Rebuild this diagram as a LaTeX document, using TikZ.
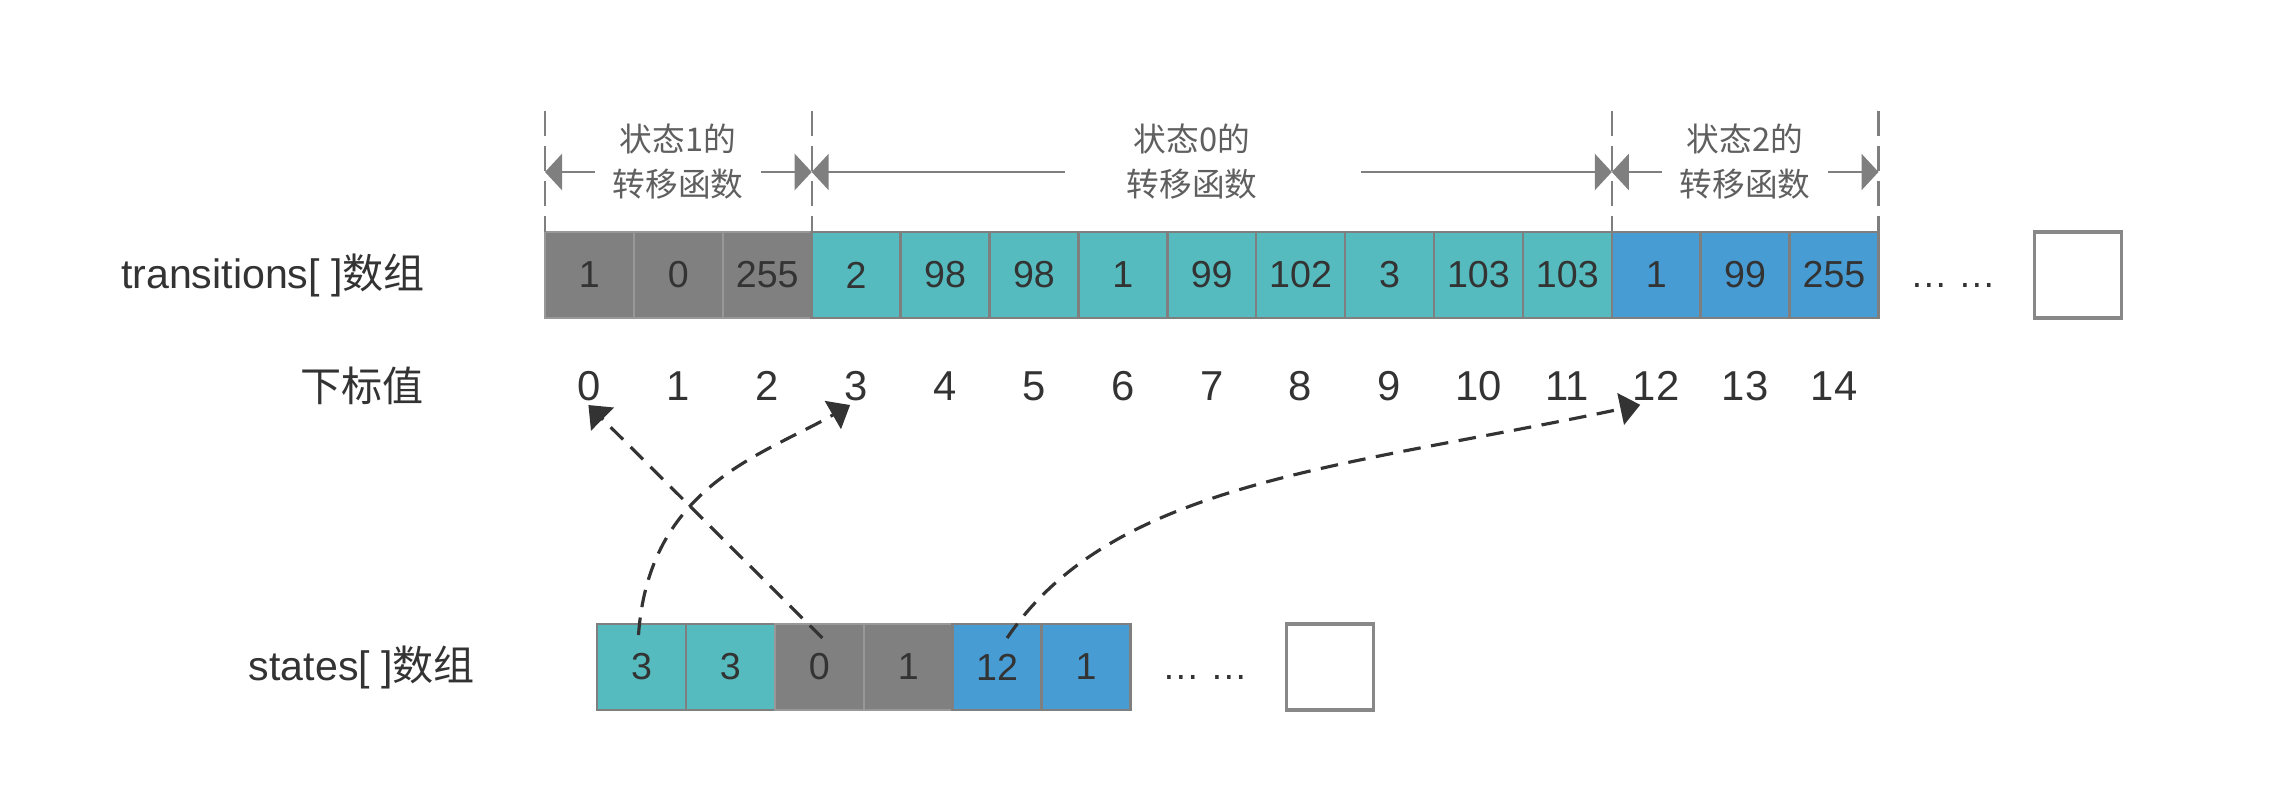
\documentclass[tikz,border=0pt]{standalone}
\usepackage{fontspec}
\setmainfont{Liberation Sans}
\newfontfamily\cjk{Noto Sans CJK SC}
\usepackage{tikz}
\usetikzlibrary{arrows.meta}

\definecolor{grayc}{HTML}{808080}
\definecolor{grayline}{HTML}{989898}
\definecolor{tealc}{HTML}{55BBBE}
\definecolor{bluec}{HTML}{489CD4}
\definecolor{cellline}{HTML}{7F7F7F}
\definecolor{boxline}{HTML}{888888}
\definecolor{ink}{HTML}{333333}
\definecolor{dimgray}{HTML}{7F7F7F}
\definecolor{labelgray}{HTML}{5F5F5F}

\begin{document}
\begin{tikzpicture}[
    cell/.style={draw=cellline, line width=0.7pt, minimum width=0.889cm,
      minimum height=0.86cm, inner sep=0pt, outer sep=0pt, text=ink,
      font=\fontsize{10.7}{12}\selectfont},
    graycell/.style={cell, fill=grayc, draw=grayline},
    blank/.style={draw=boxline, line width=0.9pt, fill=white,
      minimum width=0.87cm, minimum height=0.86cm, inner sep=0pt},
    idx/.style={text=ink, inner sep=1pt, font=\fontsize{11.9}{13}\selectfont},
    rowname/.style={text=ink, font=\fontsize{11.7}{13}\selectfont},
    spanname/.style={text=labelgray, align=center, inner xsep=0.17cm,
      inner ysep=0pt, font=\cjk\fontsize{9.3}{12.8}\selectfont},
    guide/.style={draw=dimgray, line width=0.6pt, dash pattern=on 7pt off 3pt},
    span/.style={draw=dimgray, line width=0.8pt,
      -{Triangle[length=1.7mm,width=3.6mm]}},
    link/.style={draw=ink, line width=0.9pt, dash pattern=on 5pt off 3pt,
      -{Triangle[length=2mm,width=3.2mm]}}
  ]
  \useasboundingbox (0,0) rectangle (22.9,8.02);

  % row names
  \node[rowname] (tname) at (2.73,5.27) {transitions[ ]{\cjk 数组}};
  \node[rowname] (iname) at (3.62,4.16) {\cjk 下标值};
  \node[rowname] (sname) at (3.62,1.35) {states[ ]{\cjk 数组}};

  % transitions[] cells
  \node[graycell] (t0) at (5.894,5.27) {1};
  \node[graycell] (t1) at (6.783,5.27) {0};
  \node[graycell] (t2) at (7.672,5.27) {255};
  \node[cell, fill=tealc] (t3) at (8.561,5.27) {2};
  \node[cell, fill=tealc] (t4) at (9.450,5.27) {98};
  \node[cell, fill=tealc] (t5) at (10.339,5.27) {98};
  \node[cell, fill=tealc] (t6) at (11.228,5.27) {1};
  \node[cell, fill=tealc] (t7) at (12.117,5.27) {99};
  \node[cell, fill=tealc] (t8) at (13.006,5.27) {102};
  \node[cell, fill=tealc] (t9) at (13.895,5.27) {3};
  \node[cell, fill=tealc] (t10) at (14.784,5.27) {103};
  \node[cell, fill=tealc] (t11) at (15.673,5.27) {103};
  \node[cell, fill=bluec] (t12) at (16.562,5.27) {1};
  \node[cell, fill=bluec] (t13) at (17.451,5.27) {99};
  \node[cell, fill=bluec] (t14) at (18.340,5.27) {255};
  \node[text=ink, anchor=base, font=\fontsize{10.7}{12}\selectfont]
    (tdots) at (19.53,5.15) {… …};
  \node[blank] (tblank) at (20.78,5.27) {};

  % index values
  \node[idx] (i0) at (5.894,4.16) {0};
  \node[idx] (i1) at (6.783,4.16) {1};
  \node[idx] (i2) at (7.672,4.16) {2};
  \node[idx] (i3) at (8.561,4.16) {3};
  \node[idx] (i4) at (9.450,4.16) {4};
  \node[idx] (i5) at (10.339,4.16) {5};
  \node[idx] (i6) at (11.228,4.16) {6};
  \node[idx] (i7) at (12.117,4.16) {7};
  \node[idx] (i8) at (13.006,4.16) {8};
  \node[idx] (i9) at (13.895,4.16) {9};
  \node[idx] (i10) at (14.784,4.16) {10};
  \node[idx] (i11) at (15.673,4.16) {11};
  \node[idx] (i12) at (16.562,4.16) {12};
  \node[idx] (i13) at (17.451,4.16) {13};
  \node[idx] (i14) at (18.340,4.16) {14};

  % states[] cells
  \node[cell, fill=tealc] (s0) at (6.415,1.35) {3};
  \node[cell, fill=tealc] (s1) at (7.304,1.35) {3};
  \node[graycell] (s2) at (8.193,1.35) {0};
  \node[graycell] (s3) at (9.082,1.35) {1};
  \node[cell, fill=bluec] (s4) at (9.971,1.35) {12};
  \node[cell, fill=bluec] (s5) at (10.860,1.35) {1};
  \node[text=ink, anchor=base, font=\fontsize{10.7}{12}\selectfont]
    (sdots) at (12.05,1.23) {… …};
  \node[blank] (sblank) at (13.30,1.35) {};

  % spans of the transition functions
  \coordinate (u0) at (5.450,6.91);
  \coordinate (u1) at (8.117,6.91);
  \coordinate (u2) at (16.118,6.91);
  \coordinate (u3) at (18.785,6.91);
  \draw[guide] (u0) -- (u0 |- t0.north);
  \draw[guide] (u1) -- (u1 |- t3.north);
  \draw[guide] (u2) -- (u2 |- t12.north);
  \draw[guide] (u3) -- (u3 |- t14.north);

  \coordinate (a0) at (5.450,6.30);
  \coordinate (a1) at (8.117,6.30);
  \coordinate (a2) at (16.118,6.30);
  \coordinate (a3) at (18.785,6.30);
  \coordinate (b0) at (10.65,6.30);
  \coordinate (b1) at (13.61,6.30);

  \node[spanname] (span1) at (6.78,6.40) {状态1的\\转移函数};
  \node[spanname] (span0) at (11.92,6.40) {状态0的\\转移函数};
  \node[spanname] (span2) at (17.45,6.40) {状态2的\\转移函数};

  \draw[span] (span1.west |- a0) -- (a0);
  \draw[span] (span1.east |- a0) -- (a1);
  \draw[span] (b0) -- (a1);
  \draw[span] (b1) -- (a2);
  \draw[span] (span2.west |- a2) -- (a2);
  \draw[span] (span2.east |- a2) -- (a3);

  % states point into transitions
  \draw[link] ([shift={(0.03,-0.14)}]s2.north) -- ([xshift=-0.01cm]i0.south);
  \draw[link] ([shift={(-0.03,-0.11)}]s0.north)
    .. controls +(86:1.5) and +(210:1.0) .. ([xshift=-0.06cm]i3.south);
  \draw[link] ([shift={(0.1,-0.14)}]s4.north)
    .. controls +(56:1.9) and +(192:3.0) .. ([xshift=-0.16cm]i12.south);
\end{tikzpicture}
\end{document}
